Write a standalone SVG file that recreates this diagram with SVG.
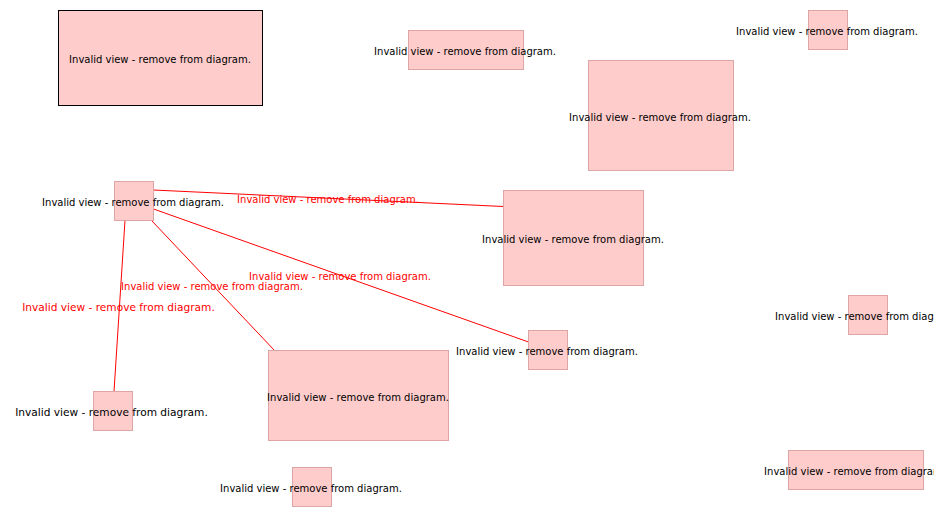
<svg xmlns="http://www.w3.org/2000/svg" width="934" height="517" viewBox="0 0 934 517">
<style>
.n{fill:#ffcccc;stroke:#dda5a5;stroke-width:1}
.sel{stroke:#000}
.t{font-family:"DejaVu Sans",sans-serif;font-size:10px;fill:#000;text-anchor:middle}
.e{stroke:#ff0000;stroke-width:1;fill:none}
.el{font-family:"DejaVu Sans",sans-serif;font-size:10px;fill:#ff0000;text-anchor:middle}
.big{font-size:10.6px}
</style>
<rect width="934" height="517" fill="#fff"/>
<g id="connectors">
<line class="e" x1="153.5" y1="190" x2="503.5" y2="206.5"/>
<line class="e" x1="153.5" y1="209" x2="528.5" y2="342"/>
<line class="e" x1="152" y1="221" x2="275" y2="351"/>
<line class="e" x1="125" y1="220.5" x2="114" y2="391.5"/>
</g>
<g id="n1"><rect class="n sel" x="58.5" y="10.5" width="204" height="95"/><text class="t" x="160" y="63">Invalid view - remove from diagram.</text></g>
<g id="n2"><rect class="n" x="408.5" y="30.5" width="115" height="39"/><text class="t" x="465" y="55">Invalid view - remove from diagram.</text></g>
<g id="n3"><rect class="n" x="588.5" y="60.5" width="145" height="110"/><text class="t" x="660" y="121">Invalid view - remove from diagram.</text></g>
<g id="n4"><rect class="n" x="808.5" y="10.5" width="39" height="39"/><text class="t" x="827" y="35">Invalid view - remove from diagram.</text></g>
<g id="n5"><rect class="n" x="114.5" y="181.5" width="39" height="39"/><text class="t" x="133" y="206">Invalid view - remove from diagram.</text></g>
<g id="n6"><rect class="n" x="503.5" y="190.5" width="140" height="95"/><text class="t" x="573" y="243">Invalid view - remove from diagram.</text></g>
<g id="n7"><rect class="n" x="848.5" y="295.5" width="39" height="39"/><text class="t" x="866" y="320">Invalid view - remove from diagram.</text></g>
<g id="n8"><rect class="n" x="528.5" y="330.5" width="39" height="39"/><text class="t" x="547" y="355">Invalid view - remove from diagram.</text></g>
<g id="n9"><rect class="n" x="268.5" y="350.5" width="180" height="90"/><text class="t" x="358" y="401">Invalid view - remove from diagram.</text></g>
<g id="n10"><rect class="n" x="93.5" y="391.5" width="39" height="39"/><text class="t big" x="111.5" y="416">Invalid view - remove from diagram.</text></g>
<g id="n11"><rect class="n" x="292.5" y="467.5" width="39" height="39"/><text class="t" x="311" y="492">Invalid view - remove from diagram.</text></g>
<g id="n12"><rect class="n" x="788.5" y="450.5" width="135" height="39"/><text class="t" x="855" y="475">Invalid view - remove from diagram.</text></g>
<g id="edge-labels">
<text class="el" x="328" y="203">Invalid view - remove from diagram.</text>
<text class="el" x="340" y="280">Invalid view - remove from diagram.</text>
<text class="el" x="212" y="290">Invalid view - remove from diagram.</text>
<text class="el big" x="118.5" y="311">Invalid view - remove from diagram.</text>
</g>
</svg>
